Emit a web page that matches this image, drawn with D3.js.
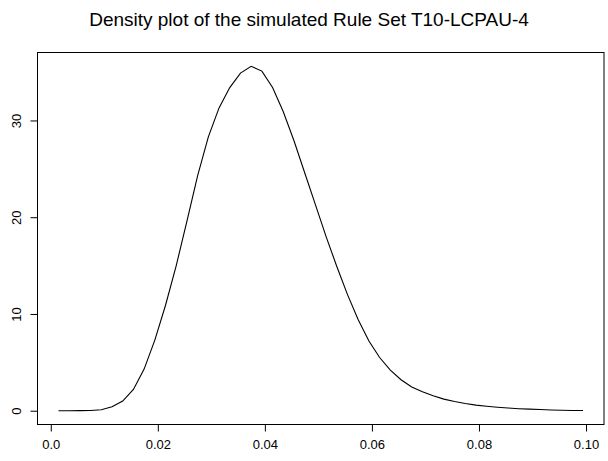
<!DOCTYPE html>
<html>
<head>
<meta charset="utf-8">
<script src="https://cdn.jsdelivr.net/npm/d3@7"></script>
<style>
  body { margin: 0; background: #fff; }
  svg text { font-family: "Liberation Sans", Arial, sans-serif; fill: #000; }
</style>
</head>
<body>
<div id="okvir"></div>
<script>
// density estimate, 50 grid points
var xStart = 0.00144;
var xStep = 0.002;
var densityValues = [
    0.00, 0.00, 0.01, 0.03, 0.10, 0.40, 1.00, 2.20, 4.30, 7.30,
    10.9, 15.0, 19.6, 24.3, 28.3, 31.3, 33.4, 34.9, 35.6, 35.1,
    33.4, 30.9, 27.9, 24.6, 21.3, 18.0, 14.9, 12.0, 9.4, 7.2,
    5.5, 4.2, 3.2, 2.45, 1.95, 1.55, 1.2, 0.95, 0.74, 0.58,
    0.46, 0.36, 0.28, 0.21, 0.16, 0.12, 0.08, 0.05, 0.03, 0.02
];
var xTicks = [0, 0.02, 0.04, 0.06, 0.08, 0.10];
var xTickLabels = ["0.0", "0.02", "0.04", "0.06", "0.08", "0.10"];
var yTicks = [0, 10, 20, 30];
var title = "Density plot of the simulated Rule Set T10-LCPAU-4";

var data = densityValues.map((v, i) => ({ x: xStart + i * xStep, y: v }));

var width = 608;
var height = 461;
var box = { left: 37.5, right: 604, top: 52.5, bottom: 424.5 };

var svg = d3.select("#okvir")
    .append("svg")
    .attr("width", width)
    .attr("height", height);

// R style axis range: data range padded by 4%
function pad(ext) {
    var d = (ext[1] - ext[0]) * 0.04;
    return [ext[0] - d, ext[1] + d];
}

var x = d3.scaleLinear()
    .domain(pad(d3.extent(data, d => d.x)))
    .range([box.left, box.right]);

var y = d3.scaleLinear()
    .domain(pad(d3.extent(data, d => d.y)))
    .range([box.bottom, box.top]);

// okvir grafa
svg.append("rect")
    .attr("x", box.left)
    .attr("y", box.top)
    .attr("width", box.right - box.left)
    .attr("height", box.bottom - box.top)
    .attr("fill", "none")
    .attr("stroke", "#000")
    .attr("stroke-width", 1);

// x os
var xAxis = svg.append("g")
    .attr("transform", "translate(0," + box.bottom + ")")
    .call(d3.axisBottom(x)
        .tickValues(xTicks)
        .tickSize(7)
        .tickPadding(8)
        .tickFormat((d, i) => xTickLabels[i]));
xAxis.select(".domain")
    .attr("d", "M" + x(xTicks[0]) + ",0H" + x(xTicks[xTicks.length - 1]));
xAxis.selectAll("text").style("font-size", "13px");

// y os
var yAxis = svg.append("g")
    .attr("transform", "translate(" + box.left + ",0)")
    .call(d3.axisLeft(y)
        .tickValues(yTicks)
        .tickSize(7)
        .tickFormat(d3.format("d")));
yAxis.select(".domain")
    .attr("d", "M0," + y(yTicks[0]) + "V" + y(yTicks[yTicks.length - 1]));
yAxis.selectAll("text")
    .attr("transform", "rotate(-90)")
    .attr("x", 0)
    .attr("y", -17)
    .attr("dy", "0")
    .attr("text-anchor", "middle")
    .style("font-size", "13px");

// krivulja gustoce
svg.append("path")
    .datum(data)
    .attr("fill", "none")
    .attr("stroke", "#000")
    .attr("stroke-width", 1.1)
    .attr("d", d3.line().x(d => x(d.x)).y(d => y(d.y)));

// naslov
svg.append("text")
    .attr("x", 309)
    .attr("y", 26)
    .attr("text-anchor", "middle")
    .style("font-size", "19px")
    .text(title);
</script>
</body>
</html>
